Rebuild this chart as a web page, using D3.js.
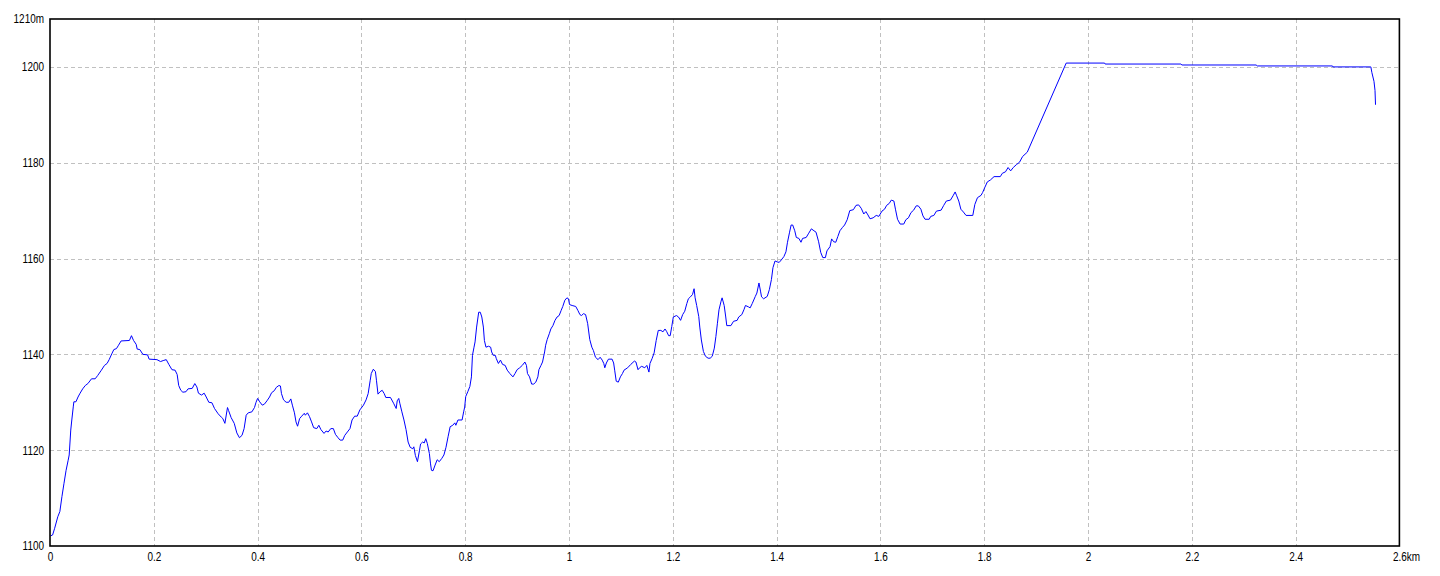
<!DOCTYPE html>
<html>
<head>
<meta charset="utf-8">
<script src="https://cdn.jsdelivr.net/npm/d3@7"></script>
<style>
  html, body { margin: 0; padding: 0; background: #fff; }
  svg { display: block; }
  text { font-family: "Liberation Sans", "DejaVu Sans", sans-serif; font-size: 12px; fill: #000; }
</style>
</head>
<body>
<svg id="chart" width="1440" height="576"></svg>
<script>
// distance along route (km)
const distanceKm = [
  0.001,0.005,0.009,0.015,0.019,0.023,0.027,0.031,0.035,0.037,0.040,0.042,0.045,0.046,0.050,0.054,0.058,0.063,0.068,0.073,
  0.080,0.087,0.092,0.099,0.105,0.110,0.114,0.119,0.123,0.128,0.132,0.137,0.153,0.157,0.161,0.166,0.168,0.173,0.179,0.188,
  0.191,0.206,0.213,0.218,0.224,0.229,0.235,0.241,0.245,0.248,0.252,0.256,0.262,0.266,0.274,0.279,0.283,0.286,0.292,0.297,
  0.301,0.306,0.312,0.317,0.324,0.330,0.333,0.337,0.342,0.344,0.349,0.355,0.360,0.365,0.370,0.374,0.378,0.382,0.389,0.394,
  0.397,0.400,0.404,0.409,0.413,0.418,0.423,0.427,0.432,0.436,0.441,0.444,0.446,0.450,0.455,0.460,0.464,0.467,0.471,0.474,
  0.477,0.481,0.485,0.490,0.492,0.496,0.500,0.504,0.508,0.514,0.518,0.522,0.528,0.532,0.536,0.541,0.546,0.550,0.555,0.559,
  0.564,0.568,0.573,0.578,0.582,0.587,0.592,0.597,0.604,0.609,0.613,0.617,0.619,0.623,0.627,0.629,0.632,0.636,0.640,0.644,
  0.647,0.656,0.662,0.667,0.669,0.672,0.674,0.678,0.682,0.686,0.690,0.694,0.699,0.701,0.704,0.708,0.712,0.714,0.718,0.721,
  0.724,0.727,0.731,0.733,0.735,0.738,0.742,0.746,0.750,0.755,0.759,0.763,0.767,0.771,0.776,0.780,0.782,0.786,0.794,0.797,
  0.799,0.801,0.805,0.809,0.812,0.814,0.817,0.819,0.822,0.826,0.829,0.832,0.835,0.837,0.840,0.845,0.849,0.851,0.854,0.858,
  0.860,0.864,0.868,0.872,0.877,0.881,0.886,0.892,0.896,0.900,0.905,0.910,0.915,0.918,0.920,0.924,0.928,0.932,0.936,0.940,
  0.942,0.946,0.949,0.953,0.955,0.958,0.962,0.965,0.969,0.973,0.977,0.981,0.985,0.988,0.992,0.996,0.999,1.001,1.006,1.013,
  1.017,1.021,1.024,1.028,1.032,1.036,1.040,1.044,1.047,1.051,1.056,1.060,1.064,1.067,1.069,1.072,1.076,1.083,1.086,1.088,
  1.091,1.095,1.099,1.103,1.106,1.113,1.119,1.126,1.129,1.133,1.136,1.140,1.146,1.150,1.154,1.156,1.160,1.164,1.168,1.172,
  1.177,1.181,1.185,1.188,1.192,1.195,1.198,1.201,1.207,1.211,1.215,1.219,1.223,1.227,1.230,1.234,1.238,1.241,1.243,1.246,
  1.250,1.252,1.255,1.259,1.263,1.268,1.272,1.276,1.280,1.283,1.286,1.289,1.293,1.295,1.299,1.302,1.304,1.312,1.317,1.324,
  1.327,1.333,1.337,1.340,1.346,1.349,1.353,1.359,1.362,1.366,1.369,1.371,1.375,1.382,1.386,1.390,1.393,1.397,1.401,1.405,
  1.409,1.414,1.418,1.421,1.425,1.428,1.431,1.435,1.438,1.443,1.447,1.450,1.457,1.462,1.467,1.472,1.476,1.481,1.485,1.489,
  1.494,1.497,1.503,1.506,1.510,1.514,1.518,1.522,1.527,1.531,1.536,1.541,1.548,1.553,1.558,1.563,1.568,1.572,1.576,1.580,
  1.586,1.592,1.597,1.603,1.608,1.612,1.617,1.621,1.626,1.629,1.633,1.638,1.645,1.649,1.654,1.659,1.664,1.669,1.673,1.678,
  1.682,1.686,1.694,1.697,1.703,1.708,1.717,1.722,1.727,1.735,1.740,1.744,1.747,1.751,1.755,1.760,1.765,1.778,1.782,1.787,
  1.794,1.797,1.801,1.806,1.812,1.819,1.831,1.835,1.841,1.846,1.851,1.856,1.862,1.868,1.874,1.883,1.958,2.032,2.033,2.179,
  2.181,2.324,2.326,2.471,2.472,2.545,2.547,2.551,2.553,2.554
];
// elevation (m)
const elevationM = [
  1102.1,1102.3,1103.7,1106.1,1107.2,1110.3,1113.1,1115.8,1117.9,1119.0,1124.2,1126.3,1129.2,1130.1,1130.1,1131.1,1131.9,1132.8,1133.5,1133.9,
  1134.9,1134.9,1135.6,1136.7,1137.7,1138.1,1138.9,1140.1,1141.0,1141.2,1141.9,1142.8,1142.9,1143.9,1142.9,1142.1,1141.1,1141.0,1140.0,1139.9,
  1139.0,1138.9,1138.5,1138.7,1138.9,1137.9,1136.8,1136.7,1135.8,1133.5,1132.5,1132.1,1132.2,1132.8,1132.9,1133.9,1133.2,1131.9,1131.5,1131.9,
  1131.1,1130.0,1129.9,1128.7,1127.6,1126.9,1126.6,1125.6,1128.9,1128.3,1126.8,1125.6,1123.6,1122.6,1123.1,1124.5,1127.3,1127.8,1128.0,1128.9,
  1130.0,1130.8,1130.1,1129.4,1129.6,1130.3,1131.1,1132.0,1132.4,1133.1,1133.5,1133.4,1131.8,1130.5,1130.0,1130.0,1130.7,1129.4,1127.8,1125.9,
  1125.0,1126.6,1127.1,1127.7,1127.3,1127.8,1127.0,1125.9,1124.7,1124.5,1125.2,1124.3,1123.5,1124.0,1123.8,1124.5,1124.5,1123.3,1122.6,1122.1,
  1122.1,1123.1,1123.8,1124.5,1126.3,1127.1,1127.1,1128.4,1129.4,1130.5,1131.8,1134.6,1136.0,1136.9,1136.4,1134.6,1131.7,1132.2,1132.5,1131.8,
  1131.0,1131.0,1129.8,1128.7,1130.3,1130.8,1129.8,1128.0,1126.3,1124.3,1121.7,1120.6,1120.3,1120.7,1118.9,1117.6,1120.0,1121.3,1121.7,1121.5,
  1122.4,1121.4,1119.3,1117.3,1115.8,1115.7,1116.9,1118.0,1117.6,1118.3,1119.0,1120.6,1122.8,1124.9,1125.2,1125.7,1125.2,1126.3,1126.3,1128.0,
  1129.0,1131.2,1132.2,1133.3,1135.3,1139.8,1141.5,1142.6,1145.7,1148.8,1148.8,1147.8,1145.7,1142.9,1141.5,1141.7,1141.5,1140.5,1139.8,1139.8,
  1139.1,1138.1,1138.8,1137.9,1137.7,1136.7,1136.0,1135.3,1136.0,1136.8,1137.2,1137.7,1138.4,1137.7,1136.0,1135.3,1133.8,1133.8,1134.2,1135.3,
  1136.8,1137.7,1138.4,1140.5,1141.9,1143.1,1144.3,1145.3,1146.0,1147.1,1147.8,1148.1,1149.2,1150.0,1151.3,1151.8,1151.6,1150.4,1150.2,1150.0,
  1149.2,1148.3,1148.1,1148.5,1148.3,1146.4,1143.1,1141.5,1140.8,1139.4,1138.9,1139.4,1138.8,1138.1,1137.2,1138.2,1139.0,1139.0,1138.2,1136.7,
  1134.4,1134.2,1135.3,1136.0,1136.7,1137.2,1137.9,1138.6,1138.4,1136.8,1137.2,1137.5,1137.2,1137.7,1136.3,1138.1,1139.1,1140.3,1142.9,1145.0,
  1145.0,1144.7,1145.3,1144.8,1143.9,1143.9,1145.8,1147.8,1148.1,1147.8,1147.1,1148.3,1149.0,1150.6,1151.6,1152.0,1152.5,1153.7,1151.8,1150.2,
  1147.9,1145.7,1143.0,1140.6,1139.6,1139.2,1139.2,1139.6,1141.3,1143.7,1146.5,1149.3,1151.1,1151.8,1150.2,1147.8,1146.0,1146.0,1146.9,1147.1,
  1147.8,1148.3,1149.3,1150.2,1149.9,1149.7,1150.6,1152.1,1152.8,1154.9,1153.2,1152.0,1151.6,1152.1,1153.5,1155.6,1158.1,1159.5,1159.3,1159.2,
  1159.7,1160.4,1161.4,1163.4,1165.5,1167.0,1167.0,1165.8,1164.4,1164.2,1163.4,1164.2,1164.4,1165.3,1166.2,1165.8,1165.5,1163.5,1161.3,1160.2,
  1160.2,1161.6,1162.5,1164.1,1163.5,1163.4,1164.6,1165.8,1166.5,1167.0,1168.1,1170.0,1170.2,1171.1,1171.2,1170.5,1169.3,1169.8,1169.1,1168.3,
  1168.5,1169.0,1168.8,1169.9,1170.3,1171.1,1171.5,1172.2,1172.0,1170.3,1168.2,1167.2,1167.2,1168.1,1168.5,1169.6,1170.1,1171.0,1171.0,1170.3,
  1168.9,1168.2,1168.2,1168.8,1169.0,1169.9,1170.1,1171.1,1172.0,1172.2,1173.1,1173.9,1173.1,1172.0,1170.3,1169.7,1169.0,1169.0,1171.3,1172.7,
  1173.2,1173.8,1174.8,1176.0,1176.4,1177.1,1177.1,1177.8,1178.1,1179.0,1178.3,1179.0,1179.6,1180.1,1181.3,1182.2,1200.8,1200.8,1200.6,1200.6,
  1200.4,1200.4,1200.2,1200.2,1200.0,1200.0,1198.8,1197.0,1195.1,1192.1
];
const xTickValues = [0, 0.2, 0.4, 0.6, 0.8, 1, 1.2, 1.4, 1.6, 1.8, 2, 2.2, 2.4, 2.6];
const xTickLabels = ["0", "0.2", "0.4", "0.6", "0.8", "1", "1.2", "1.4", "1.6", "1.8", "2", "2.2", "2.4", "2.6"];
const yTickValues = [1100, 1120, 1140, 1160, 1180, 1200, 1210];
const yTickLabels = ["1100", "1120", "1140", "1160", "1180", "1200", "1210m"];
const xUnit = "km";

const svg = d3.select("#chart");
const mLeft = 50, mRight = 1399.4, mTop = 19, mBottom = 546;
const squeeze = 0.83; // narrow glyphs like the reference

const x = d3.scaleLinear().domain([0, 2.6]).range([mLeft, mRight]);
const y = d3.scaleLinear().domain([1100, 1210]).range([mBottom, mTop]);

const data = distanceKm.map((d, i) => ({ d, e: elevationM[i] }));

// grid
const grid = svg.append("g").attr("shape-rendering", "crispEdges");
grid.selectAll("line.vx")
  .data(xTickValues.filter(v => v > 0 && v < 2.6))
  .join("line")
  .attr("x1", d => Math.round(x(d)) + 0.5).attr("x2", d => Math.round(x(d)) + 0.5)
  .attr("y1", mTop).attr("y2", mBottom)
  .attr("stroke", "#c0c0c0").attr("stroke-width", 1).attr("stroke-dasharray", "4,3");
grid.selectAll("line.hy")
  .data(yTickValues.filter(v => v > 1100 && v < 1210))
  .join("line")
  .attr("y1", d => Math.round(y(d)) + 0.5).attr("y2", d => Math.round(y(d)) + 0.5)
  .attr("x1", mLeft).attr("x2", mRight)
  .attr("stroke", "#c0c0c0").attr("stroke-width", 1).attr("stroke-dasharray", "4,3");

// line
const line = d3.line().x(d => x(d.d)).y(d => y(d.e)).curve(d3.curveLinear);
svg.append("path").datum(data)
  .attr("d", line)
  .attr("fill", "none")
  .attr("stroke", "#0000ff")
  .attr("stroke-width", 1);

// frame
svg.append("rect")
  .attr("x", mLeft).attr("y", mTop)
  .attr("width", mRight - mLeft).attr("height", mBottom - mTop)
  .attr("fill", "none").attr("stroke", "#000").attr("stroke-width", 1.6);

// axes (labels only, no tick marks)
const xAxis = d3.axisBottom(x).tickValues(xTickValues)
  .tickFormat((d, i) => xTickLabels[i]).tickSize(0).tickPadding(6);
const gx = svg.append("g").attr("transform", `translate(0,${mBottom})`).call(xAxis);
gx.select(".domain").remove();
gx.selectAll("text").attr("font-size", 12).attr("font-family", null)
  .attr("transform", `scale(${squeeze},1)`);
// unit after the last label
const lastTick = gx.selectAll(".tick").filter((d, i) => i === xTickValues.length - 1).select("text");
lastTick.append("tspan").text(xUnit);
lastTick.attr("text-anchor", "start");
const numW = lastTick.node().getSubStringLength(0, xTickLabels[xTickLabels.length - 1].length);
lastTick.attr("x", -numW / 2);

const yAxis = d3.axisLeft(y).tickValues(yTickValues)
  .tickFormat((d, i) => yTickLabels[i]).tickSize(0).tickPadding(6);
const gy = svg.append("g").attr("transform", `translate(${mLeft},0)`).call(yAxis);
gy.select(".domain").remove();
gy.selectAll("text").attr("font-size", 12).attr("font-family", null)
  .attr("x", -6 / squeeze)
  .attr("transform", `scale(${squeeze},1)`);
</script>
</body>
</html>
